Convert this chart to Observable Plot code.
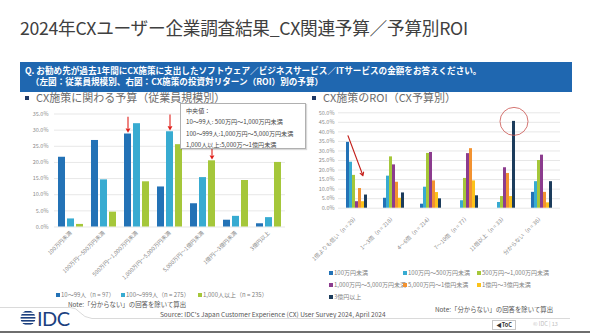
<!DOCTYPE html>
<html><head><meta charset="utf-8">
<script src="https://cdn.jsdelivr.net/npm/d3@7"></script>
<script src="https://cdn.jsdelivr.net/npm/@observablehq/plot@0.6"></script>
<style>
body{margin:0;background:#fff;}
#page{position:relative;width:590px;height:333px;overflow:hidden;font-family:"Noto Sans CJK JP","Noto Sans",sans-serif;color:#404040;background:#fff;}
.abs{position:absolute;white-space:nowrap;}
#title{left:20px;top:14px;font-size:17.7px;color:#404040;letter-spacing:-0.3px;}
#banner{left:20px;top:62px;width:552px;height:30px;background:#1f67b0;color:#fff;font-weight:bold;font-size:8.6px;line-height:11px;box-sizing:border-box;padding:3px 0 0 5px;}
#banner div{height:11px;overflow:visible;}
.sub{font-size:11px;color:#6b6b6b;top:89px;}
.sub b{display:inline-block;width:4px;height:4px;background:#1f3864;vertical-align:middle;margin-right:7px;position:relative;top:-1px;}
.chart{position:absolute;}
.chart svg{overflow:visible;}
.leg{font-size:6px;color:#7f7f7f;}
.leg i{display:inline-block;width:4px;height:4px;margin-right:1px;vertical-align:middle;position:relative;top:-0.5px;}
#median{left:180px;top:103px;width:126px;height:46px;border:1px solid #b0b0b0;background:#fff;box-sizing:border-box;padding:1px 0 0 5px;font-size:6.1px;line-height:11.3px;color:#444;box-shadow:1px 1px 1px rgba(0,0,0,0.15);}
.note{font-size:6.4px;color:#555;}
#source{left:160px;top:309px;font-size:6.5px;color:#555;}
#toc{left:492px;top:320px;width:24px;height:10px;border:1px solid #c8c8c8;box-sizing:border-box;font-size:5.5px;font-weight:bold;color:#333;text-align:center;line-height:8px;}
#copy{left:533px;top:320px;font-size:5.5px;color:#c0c0c0;}
</style></head><body><div id="page">
<div id="title" class="abs">2024年CXユーザー企業調査結果_CX関連予算／予算別ROI</div>
<div id="banner" class="abs"><div>Q. お勧め先が過去1年間にCX施策に支出したソフトウェア／ビジネスサービス／ITサービスの金額をお答えください。</div><div>&nbsp;&nbsp;&nbsp;（左図：従業員規模別、右図：CX施策の投資対リターン（ROI）別の予算）</div></div>
<div class="abs sub" style="left:25px"><b></b>CX施策に関わる予算（従業員規模別）</div>
<div class="abs sub" style="left:312px"><b></b>CX施策のROI（CX予算別）</div>
<div id="left" class="chart" style="left:0;top:100px"></div>
<div id="right" class="chart" style="left:295px;top:100px"></div>
<div id="median" class="abs"></div>
<div id="legL"></div>
<div id="legR"></div>
<div class="abs note" style="left:68px;top:300px">Note:「分からない」の回答を除いて算出</div>
<div class="abs note" style="left:435px;top:305px">Note:「分からない」の回答を除いて算出</div>
<div id="source" class="abs">Source: IDC's Japan Customer Experience (CX) User Survey 2024, April 2024</div>
<svg class="abs" style="left:0;top:0" width="590" height="333">
  <path d="M0,307.5H70Q76,307.5 80,312.5T92,318.5H570" fill="none" stroke="#d0d0d0" stroke-width="0.8"/>
  <rect x="0" y="331" width="590" height="2" fill="#6e6e6e"/>
  <g fill="#1b3f7f">
    <clipPath id="lc"><circle cx="28" cy="318" r="7.5"/></clipPath>
    <g clip-path="url(#lc)">
      <rect x="20" y="311" width="16" height="1.6"/><rect x="20" y="314" width="16" height="1.6"/>
      <rect x="20" y="317" width="16" height="1.6"/><rect x="20" y="320" width="16" height="1.6"/>
      <rect x="20" y="323" width="16" height="1.6"/>
    </g>
    <text x="37" y="326" font-family="Lato, 'Noto Sans', sans-serif" font-size="20" font-weight="400" letter-spacing="-0.5">IDC</text>
  </g>
</svg>
<div id="toc" class="abs">◀ToC</div>
<div id="copy" class="abs">© IDC | 13</div>
</div>
<script>
// ---- Left chart data: budget by company size ----
const budgetGroups = ["100万円未満","100万円～500万円未満","500万円～1,000万円未満","1,000万円～5,000万円未満","5,000万円～1億円未満","1億円～3億円未満","3億円以上"];
const sizeSeries = ["10～99人（n = 97）","100～999人（n = 275）","1,000人以上（n = 235）"];
const size10to99   = [21.6, 26.8, 28.8, 12.4, 7.2, 2.1, 1.0];
const size100to999 = [2.5, 14.6, 32.0, 29.5, 15.3, 3.3, 2.9];
const size1000plus = [0.8, 4.6, 14.0, 25.5, 20.5, 14.4, 20.0];
const leftTicks = [0, 5, 10, 15, 20, 25, 30, 35];
// median markers: [group index, series index]
const medianMarks = [[2, 0], [3, 1], [4, 2]];
const medianNotes = ["中央値：", "10～99人: 500万円～1,000万円未満", "100～999人:1,000万円～5,000万円未満", "1,000人以上:5,000万～1億円未満"];

// ---- Right chart data: ROI by budget ----
const roiGroups = ["1倍よりも低い（n = 29）","1～3倍（n = 218）","4～6倍（n = 214）","7～10倍（n = 77）","11倍以上（n = 33）","分からない（n = 36）"];
const budgetSeries = ["100万円未満","100万円～500万円未満","500万円～1,000万円未満","1,000万円～5,000万円未満","5,000万円～1億円未満","1億円～3億円未満","3億円以上"];
const roiB1 = [34.5, 5.2, 2.1, 0.0, 0.0, 8.3];
const roiB2 = [24.1, 16.8, 11.0, 3.9, 3.0, 13.9];
const roiB3 = [17.2, 26.9, 28.7, 15.6, 6.1, 25.0];
const roiB4 = [3.4, 22.7, 29.2, 28.6, 21.2, 27.8];
const roiB5 = [10.3, 13.6, 14.3, 31.2, 18.2, 8.3];
const roiB6 = [3.4, 5.2, 8.2, 14.3, 6.1, 2.8];
const roiB7 = [6.9, 8.0, 4.9, 6.5, 45.5, 13.9];
const rightTicks = [0, 5, 10, 15, 20, 25, 30, 35, 40, 45, 50];
// annotation: trend arrow in first group, circle on highest bar
const trendArrow = {group: 0, fromSeries: 0, toSeries: 5, fromValue: 38, toValue: 17};
const circleMark = {group: 4, series: 6};

const sizeColors = ["#2372b6", "#38abd1", "#a5c73a"];
const budgetColors = ["#2372b6", "#38abd1", "#a5c73a", "#8c3c8e", "#f29230", "#fbc21a", "#1c3c5c"];
const font = '"Noto Sans CJK JP","Noto Sans",sans-serif';
const pct = d => d.toFixed(1) + "%";

// build tables
const leftVals = [size10to99, size100to999, size1000plus];
const leftData = [];
sizeSeries.forEach((s, i) => budgetGroups.forEach((g, j) => leftData.push({group: g, series: s, value: leftVals[i][j]})));
const rightVals = [roiB1, roiB2, roiB3, roiB4, roiB5, roiB6, roiB7];
const rightData = [];
budgetSeries.forEach((s, i) => roiGroups.forEach((g, j) => rightData.push({group: g, series: s, value: rightVals[i][j]})));

const medData = medianMarks.map(([g, s]) => ({group: budgetGroups[g], series: sizeSeries[s], value: leftVals[s][g]}));

const left = Plot.plot({
  width: 295, height: 190,
  marginTop: 13.5, marginBottom: 63.5, marginLeft: 54, marginRight: 10,
  style: {fontFamily: font, fontSize: "5.5px", color: "#8c8c8c", background: "transparent", overflow: "visible"},
  fx: {domain: budgetGroups, padding: 0, label: null, axis: "bottom", tickRotate: -45, tickSize: 0, tickPadding: 5},
  x: {domain: sizeSeries, axis: null, paddingInner: 0.22, paddingOuter: 0.44},
  y: {domain: [0, 35], ticks: leftTicks, tickFormat: pct, label: null, tickSize: 0, tickPadding: 6},
  color: {domain: sizeSeries, range: sizeColors},
  marks: [
    Plot.ruleY(leftTicks, {stroke: "#dcdcdc", strokeWidth: 0.7}),
    Plot.barY(leftData, {fx: "group", x: "series", y: "value", fill: "series"}),
    Plot.ruleX(medData, {fx: "group", x: "series", y1: d => d.value + 5.2, y2: d => d.value + 1.6, stroke: "#e0201b", strokeWidth: 1.1}),
    Plot.dot(medData, {fx: "group", x: "series", y: d => d.value + 1.25, symbol: "triangle", rotate: 180, r: 1.8, fill: "#e0201b", stroke: "none"})
  ]
});
document.getElementById("left").appendChild(left);

const arrowData = [{group: roiGroups[trendArrow.group], x1: budgetSeries[trendArrow.fromSeries], x2: budgetSeries[trendArrow.toSeries], y1: trendArrow.fromValue, y2: trendArrow.toValue}];
const circleData = [{group: roiGroups[circleMark.group], series: budgetSeries[circleMark.series], value: rightVals[circleMark.series][circleMark.group]}];

const right = Plot.plot({
  width: 295, height: 175,
  marginTop: 12.3, marginBottom: 67.3, marginLeft: 41, marginRight: 29,
  style: {fontFamily: font, fontSize: "5.5px", color: "#8c8c8c", background: "transparent", overflow: "visible"},
  fx: {domain: roiGroups, padding: 0, label: null, axis: "bottom", tickRotate: -45, tickSize: 0, tickPadding: 8},
  x: {domain: budgetSeries, axis: null, paddingInner: 0.1, paddingOuter: 1.2},
  y: {domain: [0, 50], ticks: rightTicks, tickFormat: pct, label: null, tickSize: 0, tickPadding: 4},
  color: {domain: budgetSeries, range: budgetColors},
  marks: [
    Plot.ruleY(rightTicks, {stroke: "#dcdcdc", strokeWidth: 0.7}),
    Plot.barY(rightData, {fx: "group", x: "series", y: "value", fill: "series"}),
    Plot.arrow(arrowData, {fx: "group", x1: "x1", x2: "x2", y1: "y1", y2: "y2", stroke: "#c4211c", strokeWidth: 1.1, headLength: 5}),
    Plot.dot(circleData, {fx: "group", x: "series", y: "value", r: 14, stroke: "#c9534f", strokeWidth: 0.8, fill: "none"})
  ]
});
document.getElementById("right").appendChild(right);

// median box
document.getElementById("median").innerHTML = medianNotes.map(t => `<div>${t}</div>`).join("");

// legends
const legL = document.getElementById("legL");
const legLX = [56, 121, 198];
sizeSeries.forEach((s, i) => {
  const d = document.createElement("div");
  d.className = "abs leg";
  d.style.left = legLX[i] + "px"; d.style.top = "290px";
  d.innerHTML = `<i style="background:${sizeColors[i]}"></i>${s}`;
  legL.appendChild(d);
});
const legR = document.getElementById("legR");
const legRX = [329, 403, 477], legRY = [268, 280, 292];
budgetSeries.forEach((s, i) => {
  const d = document.createElement("div");
  d.className = "abs leg";
  d.style.left = legRX[i % 3] + "px"; d.style.top = legRY[Math.floor(i / 3)] + "px";
  d.innerHTML = `<i style="background:${budgetColors[i]}"></i>${s}`;
  legR.appendChild(d);
});
</script>
</body></html>
